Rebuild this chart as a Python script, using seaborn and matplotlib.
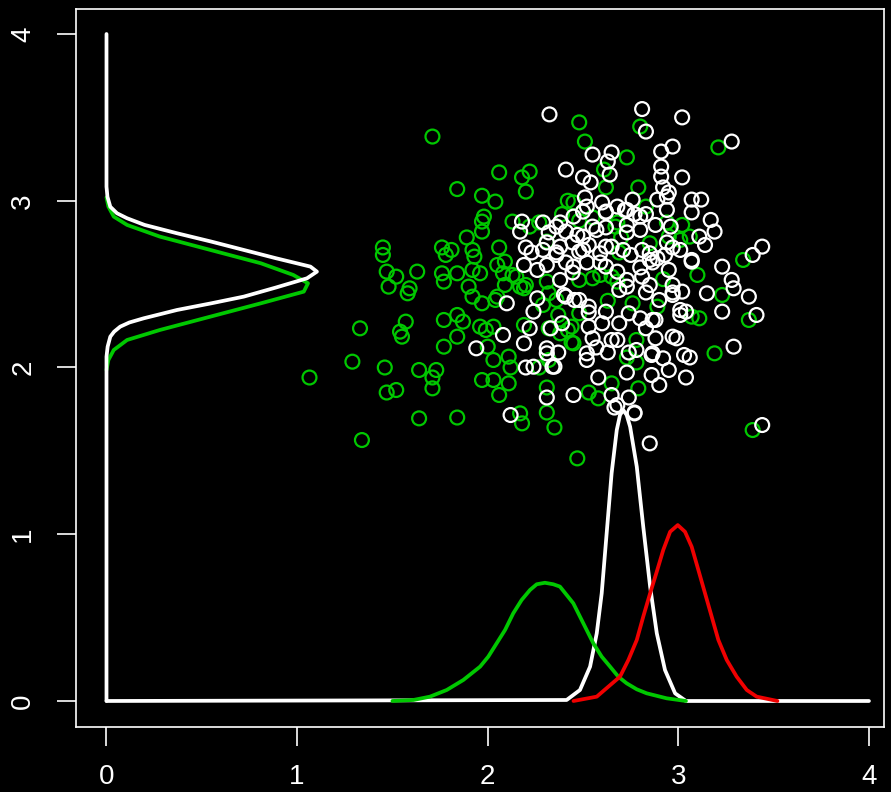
import matplotlib
matplotlib.use("Agg")
import matplotlib.pyplot as plt
import seaborn as sns
import pandas as pd

# ---------------- data ----------------
green_x = [1.71, 2.06, 2.22, 2.18, 2.20, 1.84, 1.97, 2.04, 1.98, 1.97, 1.97, 1.89, 2.13, 2.27, 2.22,
           1.45, 1.45, 1.76, 1.81, 1.78, 1.92, 1.93, 2.06, 2.05, 2.09, 2.31, 1.47, 1.52, 1.63, 1.76,
           1.77, 1.84, 1.92, 1.96, 2.08, 2.13, 1.48, 1.59, 1.90, 2.09, 2.20,
           1.58, 1.92, 1.97, 2.05, 2.17, 2.32, 1.33, 1.57, 1.54, 1.55, 1.77, 1.84, 1.87, 1.84, 1.77,
           1.96, 1.99, 2.03, 2.00, 2.19, 2.32, 1.29, 1.46, 1.64, 1.73, 1.71, 1.71, 1.47, 1.52, 2.03,
           2.11, 2.12, 1.97, 2.03, 2.11, 2.06, 2.27, 2.31, 2.31, 2.35, 2.18, 1.64, 1.84, 1.34, 1.065,
           2.47, 2.17, 3.39,
           2.48, 2.80, 2.51, 3.21, 2.73, 2.61, 2.62, 2.79, 2.83, 2.39, 2.55, 2.67, 3.02, 3.01, 3.10,
           3.34, 2.31, 2.55, 2.68,
           3.23, 3.11, 3.37, 2.89, 3.19, 2.44, 2.32, 2.78, 2.79, 2.53, 2.58, 2.65, 2.45, 2.48, 2.42, 2.73,
           2.15, 2.19, 2.04, 2.36, 2.37, 2.44, 2.68, 2.94, 2.95, 3.06, 2.69, 2.48, 2.65, 3.07, 2.78, 2.45,
           2.29, 2.38, 2.59, 2.85, 2.76, 2.63, 2.92, 2.70, 2.48, 2.42]
green_y = [3.385, 3.17, 3.175, 3.14, 3.055, 3.07, 3.03, 2.995, 2.905, 2.875, 2.815, 2.78, 2.875, 2.87, 2.845,
           2.72, 2.675, 2.72, 2.705, 2.675, 2.705, 2.665, 2.72, 2.615, 2.635, 2.755, 2.575, 2.545, 2.575, 2.565,
           2.515, 2.565, 2.585, 2.565, 2.565, 2.555, 2.485, 2.475, 2.485, 2.495, 2.495,
           2.445, 2.425, 2.385, 2.425, 2.485, 2.445, 2.235, 2.275, 2.215, 2.185, 2.285, 2.315, 2.275, 2.185, 2.125,
           2.245, 2.225, 2.245, 2.125, 2.255, 2.235, 2.035, 2.0, 1.985, 1.985, 1.94, 1.875, 1.85, 1.865, 2.045,
           2.065, 2.0, 1.925, 1.925, 1.905, 1.835, 2.0, 1.88, 1.73, 1.64, 1.665, 1.695, 1.70, 1.565, 1.94,
           1.455, 1.725, 1.625,
           3.47, 3.445, 3.355, 3.32, 3.26, 3.187, 3.08, 3.08, 2.965, 2.92, 2.90, 2.845, 2.855, 2.765, 2.555,
           2.645, 2.515, 2.535, 2.515,
           2.435, 2.295, 2.285, 2.365, 2.085, 2.15, 2.045, 2.03, 1.875, 1.85, 1.815, 1.905, 2.145, 2.325, 2.225, 2.06,
           2.545, 2.475, 2.405, 2.405, 2.315, 2.245, 2.87, 2.87, 2.785, 2.785, 2.69, 2.525, 2.545, 2.305, 2.165, 2.99,
           2.375, 2.205, 2.555, 2.745, 2.385, 2.40, 2.53, 2.78, 2.88, 3.0]

white_x = [2.324, 2.18, 2.17, 2.36, 2.20, 2.23, 2.29, 2.36, 2.19, 2.26,
           2.10, 2.26, 2.24, 2.08, 1.94, 2.22, 2.19, 2.31, 2.20, 2.24, 2.35, 2.31, 2.12,
           2.665, 2.77, 2.85, 3.44,
           2.81, 3.02, 2.83, 3.28, 2.55, 2.65, 2.63, 2.91, 2.97, 2.41, 2.64, 2.91, 2.50, 2.54, 2.91, 3.02,
           2.92, 2.95, 2.51, 2.60, 2.76, 2.89, 2.94, 3.07, 3.12, 2.68, 2.45, 2.50, 2.62, 2.72, 2.77, 2.83,
           2.94, 3.07, 3.17, 3.19, 2.29, 2.41, 2.47, 2.55, 2.62, 2.73, 2.80, 2.88, 2.96, 3.11, 3.14, 2.31,
           2.38, 2.48, 2.53, 2.59, 2.65, 2.71, 2.75, 2.85, 2.89, 2.93, 2.97, 3.07, 3.23, 3.28, 3.39, 3.44,
           2.45, 2.52, 2.62, 2.68, 2.80, 2.85, 2.95, 2.31, 2.38, 2.73, 2.85, 2.97,
           2.40, 2.455, 2.53, 2.69, 2.97, 3.02, 3.04, 3.01, 3.15, 3.29, 3.37, 3.23, 3.41, 2.62, 2.74, 2.80,
           2.88, 2.83, 2.33, 2.39, 2.53, 2.60, 2.69, 2.55, 2.68, 2.88, 2.99, 3.29, 2.37, 2.52, 2.63, 2.78,
           2.86, 2.92, 3.03, 2.34, 2.73, 2.58, 2.86, 2.90, 2.95, 3.04, 2.45, 2.65, 2.74, 2.68, 2.77,
           2.38, 2.36, 2.41, 2.445, 2.41, 2.48, 2.53, 2.57, 2.65, 2.73, 2.81, 2.865, 2.83, 2.90, 2.97, 3.01,
           2.865, 2.97, 3.06, 2.865, 2.74, 2.52, 2.31, 3.07, 3.01, 2.94, 2.81, 2.73, 2.57, 2.50, 2.62, 2.59,
           2.50, 2.445, 2.32, 2.62, 2.73, 2.80, 2.52]
white_y = [3.518, 2.875, 2.815, 2.845, 2.72, 2.69, 2.705, 2.675, 2.615, 2.585,
           2.385, 2.415, 2.335, 2.195, 2.115, 2.235, 2.145, 2.115, 2.0, 2.005, 2.005, 1.82, 1.715,
           1.76, 1.725, 1.545, 1.655,
           3.55, 3.50, 3.415, 3.355, 3.277, 3.29, 3.235, 3.295, 3.325, 3.187, 3.157, 3.205, 3.14, 3.11, 3.145, 3.14,
           3.08, 3.05, 3.02, 2.99, 3.007, 3.007, 3.025, 3.007, 3.007, 2.965, 2.905, 2.935, 2.935, 2.945, 2.92, 2.92,
           2.945, 2.93, 2.885, 2.815, 2.87, 2.815, 2.795, 2.845, 2.84, 2.855, 2.825, 2.855, 2.845, 2.785, 2.735, 2.75,
           2.725, 2.695, 2.735, 2.685, 2.725, 2.705, 2.675, 2.685, 2.655, 2.675, 2.72, 2.635, 2.605, 2.525, 2.675, 2.725,
           2.605, 2.63, 2.605, 2.575, 2.60, 2.645, 2.585, 2.615, 2.525, 2.525, 2.495, 2.495,
           2.435, 2.405, 2.365, 2.465, 2.435, 2.455, 2.335, 2.315, 2.445, 2.475, 2.425, 2.335, 2.315, 2.335, 2.325, 2.295,
           2.285, 2.235, 2.235, 2.265, 2.245, 2.265, 2.265, 2.175, 2.165, 2.175, 2.175, 2.125, 2.09, 2.045, 2.09, 2.105,
           2.075, 2.055, 2.075, 2.005, 1.97, 1.94, 1.955, 1.895, 1.985, 1.94, 1.835, 1.835, 1.82, 1.775, 1.73,
           2.87, 2.69, 2.63, 2.57, 2.425, 2.405, 2.33, 2.12, 2.165, 2.485, 2.545, 2.63, 2.45, 2.405, 2.45, 2.345,
           2.285, 2.185, 2.06, 2.085, 2.09, 2.085, 2.085, 2.645, 2.705, 2.75, 2.705, 2.81, 2.825, 2.785, 2.725, 2.63,
           2.705, 2.75, 2.81, 2.93, 2.945, 2.905, 2.965]

# density curves along the value axis (left side): density, value
left_white_density = [0, 0, 0.006, 0.02, 0.04, 0.072, 0.12, 0.195, 0.37, 0.55, 0.72, 0.89, 1.052, 1.104, 1.07,
                      0.89, 0.72, 0.55, 0.37, 0.2, 0.108, 0.055, 0.02, 0.005, 0, 0]
left_white_value = [0, 2.065, 2.125, 2.185, 2.215, 2.245, 2.27, 2.295, 2.345, 2.385, 2.425, 2.48, 2.535, 2.575,
                    2.605, 2.655, 2.705, 2.755, 2.805, 2.855, 2.895, 2.925, 2.964, 3.024, 3.084, 4.0]
left_green_density = [0, 0.01, 0.038, 0.108, 0.28, 0.545, 0.81, 1.035, 1.057, 0.98, 0.81, 0.545, 0.28,
                      0.108, 0.038, 0.01, 0]
left_green_value = [1.985, 2.045, 2.105, 2.165, 2.225, 2.305, 2.385, 2.455, 2.505, 2.555, 2.625, 2.705, 2.785,
                    2.855, 2.905, 2.965, 3.02]

# density curves along the x axis (bottom): x, density
bottom_white_x = [0, 2.414, 2.484, 2.537, 2.572, 2.598, 2.624, 2.65, 2.677, 2.694, 2.711, 2.729, 2.747, 2.782,
                  2.816, 2.852, 2.887, 2.93, 2.983, 3.04, 4.0]
bottom_white_d = [0, 0.006, 0.066, 0.206, 0.406, 0.646, 1.006, 1.366, 1.625, 1.715, 1.745, 1.715, 1.645, 1.405,
                  1.045, 0.686, 0.406, 0.186, 0.046, 0, 0]
bottom_green_x = [1.50, 1.61, 1.697, 1.785, 1.872, 1.96, 2.003, 2.047, 2.091, 2.134, 2.178, 2.222, 2.257, 2.30,
                  2.344, 2.379, 2.449, 2.484, 2.519, 2.554, 2.598, 2.642, 2.685, 2.729, 2.782, 2.834, 2.939, 3.04]
bottom_green_d = [0, 0.006, 0.026, 0.066, 0.126, 0.206, 0.266, 0.346, 0.426, 0.526, 0.606, 0.666, 0.70, 0.709,
                  0.70, 0.686, 0.586, 0.506, 0.426, 0.346, 0.266, 0.206, 0.146, 0.106, 0.07, 0.046, 0.016, 0]
bottom_red_x = [2.45, 2.572, 2.694, 2.738, 2.782, 2.816, 2.852, 2.887, 2.921, 2.957, 2.997, 3.035, 3.07, 3.105,
                3.14, 3.175, 3.21, 3.254, 3.306, 3.359, 3.411, 3.52]
bottom_red_d = [0, 0.026, 0.146, 0.246, 0.366, 0.506, 0.646, 0.776, 0.906, 1.015, 1.055, 1.015, 0.925, 0.786,
                0.646, 0.506, 0.366, 0.246, 0.146, 0.066, 0.026, 0]

tick_values = [0, 1, 2, 3, 4]
tick_labels = ["0", "1", "2", "3", "4"]

# ---------------- style ----------------
GREEN = "#00c800"
WHITE = "#ffffff"
RED = "#f00000"

sns.set_theme(style="dark")
plt.rcParams["font.family"] = ["Liberation Sans", "DejaVu Sans"]

fig = plt.figure(figsize=(8.91, 7.92), dpi=100, facecolor="black")
ax = fig.add_axes([76 / 891, 65 / 792, 808 / 891, 718 / 792])
ax.set_facecolor("black")

# scatter
sns.scatterplot(x=green_x, y=green_y, ax=ax, marker="o", s=100,
                facecolor="none", edgecolor=GREEN, linewidth=1.6, zorder=2)
sns.scatterplot(x=white_x, y=white_y, ax=ax, marker="o", s=100,
                facecolor="none", edgecolor=WHITE, linewidth=1.6, zorder=3)

line_kw = dict(sort=False, estimator=None, linewidth=2.7, solid_joinstyle="round",
               solid_capstyle="round", zorder=4)
# left curves
sns.lineplot(x=left_green_density, y=left_green_value, ax=ax, color=GREEN, **line_kw)
sns.lineplot(x=left_white_density, y=left_white_value, ax=ax, color=WHITE, **line_kw)
# bottom curves
sns.lineplot(x=bottom_white_x, y=bottom_white_d, ax=ax, color=WHITE, **line_kw)
sns.lineplot(x=bottom_green_x, y=bottom_green_d, ax=ax, color=GREEN, **line_kw)
sns.lineplot(x=bottom_red_x, y=bottom_red_d, ax=ax, color=RED, **line_kw)

ax.set_xlim(-0.16, 4.079)
ax.set_ylim(-0.156, 4.15)
ax.set_xticks(tick_values)
ax.set_xticklabels(tick_labels)
ax.set_yticks(tick_values)
ax.set_yticklabels(tick_labels, rotation=90, va="center")
ax.grid(False)
for sp in ax.spines.values():
    sp.set_visible(True)
    sp.set_color("white")
    sp.set_linewidth(1.2)
ax.tick_params(axis="both", colors="white", length=13.7, width=1.2, labelsize=20,
               direction="out", bottom=True, left=True)
ax.tick_params(axis="x", pad=13)
ax.tick_params(axis="y", pad=15)
ax.set_xlabel("")
ax.set_ylabel("")

fig.savefig("out.png", dpi=100, facecolor="black")
